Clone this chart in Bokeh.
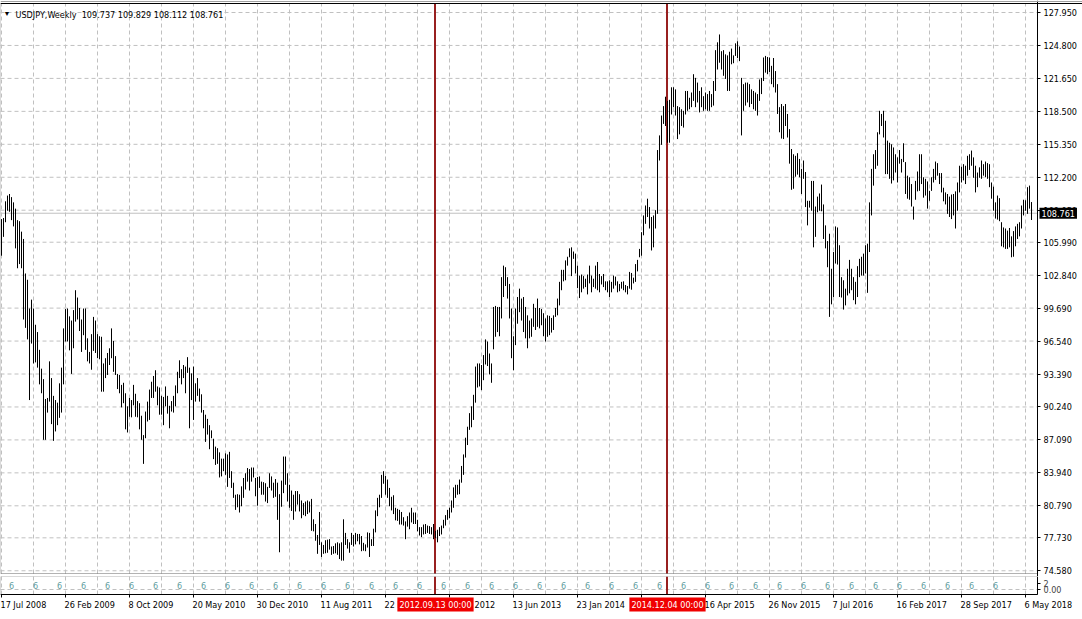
from bokeh.plotting import figure
from bokeh.layouts import column
from bokeh.models import (Range1d, FixedTicker, Span, Label, BoxAnnotation,
                          ColumnDataSource, NumeralTickFormatter)
from bokeh.embed import file_html
from bokeh.resources import INLINE
from bokeh.core.properties import value

# ---------------- data ----------------
symbol = "USDJPY,Weekly"
last_open = 109.737
last_close = 108.761

highs = [
    108.2, 108.3, 109.9, 110.45, 110.6, 110.3, 109.8, 109.2, 108.1, 108.0,
    107.0, 106.3, 103.0, 102.4, 99.65, 100.5, 99.65, 98.1, 97.4, 95.7,
    93.9, 92.9, 91.0, 91.1, 94.6, 93.0, 91.3, 90.9, 90.65, 92.5,
    94.0, 97.75, 99.6, 99.65, 98.9, 98.5, 99.5, 101.4, 100.7, 99.7,
    98.6, 99.65, 99.65, 96.8, 95.5, 97.2, 98.85, 98.5, 97.2, 97.0,
    96.95, 94.4, 94.9, 95.4, 95.85, 97.75, 96.55, 95.1, 93.4, 93.3,
    92.35, 92.55, 91.55, 90.3, 91.1, 90.9, 92.35, 91.5, 90.8, 90.6,
    89.4, 87.55, 89.8, 90.75, 91.9, 92.65, 93.2, 93.75, 92.2, 92.1,
    91.3, 91.2, 92.2, 91.3, 90.35, 90.8, 91.3, 92.3, 93.6, 94.7,
    93.85, 94.25, 94.1, 95.0, 94.0, 93.45, 94.1, 92.5, 93.0, 92.0,
    91.45, 89.95, 89.5, 89.1, 88.5, 88.0, 87.2, 86.45, 86.3, 85.9,
    85.3, 85.3, 85.8, 85.7, 85.95, 84.1, 83.0, 81.85, 81.9, 81.85,
    82.65, 83.45, 83.9, 84.4, 84.3, 84.45, 84.45, 83.45, 83.55, 83.6,
    83.1, 83.05, 82.95, 82.6, 83.9, 83.6, 83.0, 83.35, 83.0, 81.9,
    83.2, 85.5, 85.5, 83.9, 82.8, 82.25, 81.85, 82.2, 82.2, 81.9,
    81.3, 81.05, 81.2, 81.3, 81.2, 81.45, 79.5, 79.05, 78.0, 80.2,
    77.3, 77.05, 77.5, 77.55, 77.6, 76.9, 76.95, 77.2, 77.3, 77.2,
    77.3, 79.5, 78.2, 77.6, 77.3, 78.2, 78.0, 78.2, 78.1, 78.1,
    77.9, 77.25, 77.1, 78.25, 78.2, 77.6, 78.6, 80.35, 81.55, 81.85,
    83.75, 84.1, 83.65, 83.3, 82.5, 81.65, 81.8, 80.6, 80.5, 80.4,
    80.2, 79.7, 79.3, 79.8, 80.15, 80.6, 80.15, 80.15, 79.45, 78.75,
    78.75, 79.0, 79.05, 78.9, 78.85, 78.75, 79.05, 78.4, 78.5, 78.75,
    78.9, 79.45, 79.9, 80.4, 80.6, 81.3, 82.55, 82.8, 82.8, 83.3,
    84.6, 85.7, 87.3, 88.35, 89.65, 90.3, 91.4, 94.1, 94.4, 94.4,
    94.25, 95.2, 96.7, 96.5, 95.35, 94.4, 99.8, 99.9, 99.8, 99.8,
    102.65, 103.75, 103.6, 102.65, 102.0, 99.65, 97.0, 99.65, 100.75, 101.55,
    100.6, 100.75, 99.8, 99.0, 98.5, 98.7, 100.1, 99.7, 100.6, 99.7,
    99.6, 99.2, 98.7, 99.0, 98.95, 98.75, 99.0, 99.7, 100.6, 102.2,
    103.35, 103.35, 104.25, 104.6, 105.4, 105.5, 105.1, 104.9, 103.75, 102.8,
    102.9, 102.75, 102.5, 102.9, 103.75, 102.8, 102.5, 103.75, 104.1, 102.95,
    102.75, 102.95, 102.25, 102.25, 102.35, 102.2, 102.8, 102.7, 102.25, 102.0,
    102.2, 102.25, 101.9, 101.8, 103.15, 103.05, 102.6, 103.9, 104.3, 105.35,
    106.95, 108.55, 109.5, 110.15, 109.35, 108.4, 108.55, 109.05, 114.8, 116.2,
    118.1, 119.0, 119.9, 119.5, 119.6, 120.8, 120.8, 120.6, 119.0, 118.9,
    118.7, 118.55, 120.45, 120.45, 119.8, 120.3, 122.05, 121.7, 121.25, 120.45,
    120.8, 119.95, 120.3, 120.15, 120.45, 120.15, 121.4, 124.35, 125.1, 125.85,
    124.25, 124.35, 123.95, 123.85, 124.2, 124.5, 123.85, 125.0, 125.2, 124.7,
    121.7, 121.1, 121.25, 121.25, 121.1, 120.6, 120.45, 120.3, 120.15, 121.55,
    121.7, 123.65, 123.8, 123.7, 123.65, 122.85, 123.6, 122.35, 121.1, 118.9,
    119.2, 119.0, 119.2, 118.25, 116.8, 114.9, 114.4, 114.25, 114.5, 113.95,
    113.0, 113.8, 112.7, 109.95, 109.95, 111.85, 111.85, 109.4, 110.35, 110.65,
    111.5, 109.6, 107.6, 106.1, 106.8, 103.45, 105.05, 107.5, 107.4, 105.7,
    102.65, 102.35, 101.55, 103.45, 104.3, 103.45, 102.65, 102.2, 103.7, 104.4,
    104.6, 104.9, 105.7, 105.85, 109.8, 113.0, 114.4, 114.8, 116.5, 118.55,
    118.25, 118.55, 117.6, 115.7, 115.5, 115.35, 115.05, 114.4, 114.1, 114.8,
    113.95, 115.45, 113.65, 112.35, 112.2, 111.55, 109.4, 111.85, 112.75, 114.4,
    114.4, 112.2, 112.05, 111.8, 110.9, 112.2, 113.0, 113.7, 113.55, 112.6,
    112.6, 111.2, 110.75, 110.6, 110.35, 110.55, 110.6, 110.85, 111.7, 113.3,
    113.2, 113.45, 113.3, 114.25, 114.4, 114.75, 114.1, 113.3, 112.65, 113.15,
    113.8, 113.45, 113.7, 113.55, 113.45, 111.7, 111.3, 109.8, 110.45, 110.2,
    107.9, 107.4, 107.3, 107.1, 107.35, 106.55, 107.05, 107.5, 107.75, 107.9,
    109.5, 110.05, 110.0, 111.25, 111.4, 109.829,
]

lows = [
    104.7, 106.5, 107.9, 109.0, 108.9, 108.1, 107.5, 105.4, 103.5, 103.9,
    103.5, 98.6, 97.8, 96.7, 90.9, 96.3, 94.4, 94.5, 94.0, 92.4,
    91.55, 87.1, 87.1, 89.7, 90.75, 88.6, 87.0, 87.9, 88.5, 89.2,
    89.7, 92.4, 96.5, 96.5, 95.65, 93.4, 95.85, 98.4, 98.6, 97.5,
    95.5, 97.1, 95.7, 94.6, 94.4, 93.8, 95.6, 95.4, 94.9, 94.8,
    91.7, 91.7, 93.0, 93.3, 94.25, 94.9, 93.6, 93.3, 91.95, 91.55,
    90.2, 90.6, 88.1, 87.8, 89.3, 89.25, 90.4, 89.3, 89.25, 88.1,
    87.1, 84.8, 87.25, 88.85, 89.0, 91.1, 91.1, 91.7, 90.4, 89.5,
    89.5, 88.5, 90.3, 89.6, 88.2, 89.8, 89.7, 90.3, 91.55, 93.0,
    92.4, 93.0, 91.55, 93.5, 88.2, 90.9, 89.0, 90.75, 91.3, 90.75,
    89.7, 88.2, 86.9, 87.6, 86.2, 87.25, 85.25, 84.7, 84.8, 83.5,
    83.6, 84.1, 83.75, 82.6, 83.45, 82.5, 81.55, 80.4, 80.65, 80.15,
    80.75, 81.55, 82.35, 83.1, 82.25, 83.1, 83.5, 81.7, 80.8, 82.5,
    81.85, 81.85, 81.2, 81.05, 82.5, 82.25, 81.55, 81.65, 79.45, 76.35,
    80.7, 82.0, 82.8, 81.2, 80.6, 80.3, 79.45, 80.25, 80.9, 80.25,
    79.6, 79.9, 79.8, 80.0, 80.15, 78.4, 78.35, 77.45, 76.2, 77.05,
    75.9, 76.2, 76.25, 76.3, 76.6, 76.1, 76.2, 76.25, 76.1, 75.7,
    75.55, 75.55, 77.05, 76.7, 76.3, 77.05, 76.9, 77.1, 77.4, 77.1,
    76.45, 76.5, 76.45, 76.8, 75.9, 76.95, 76.95, 78.25, 79.8, 80.65,
    81.55, 82.9, 81.85, 81.55, 80.75, 80.35, 80.0, 79.4, 79.35, 79.0,
    79.0, 78.9, 77.6, 78.8, 78.55, 79.2, 79.05, 79.05, 78.35, 77.95,
    77.8, 78.05, 78.1, 78.2, 78.1, 78.05, 77.6, 77.7, 77.3, 77.9,
    78.05, 78.65, 78.9, 79.45, 79.6, 80.15, 80.6, 81.55, 81.85, 81.9,
    83.0, 83.75, 85.4, 86.6, 88.05, 88.3, 89.0, 90.65, 92.1, 92.2,
    91.85, 92.8, 94.3, 94.15, 93.35, 92.55, 95.75, 96.95, 97.4, 97.0,
    98.7, 100.75, 101.8, 100.6, 98.7, 94.9, 93.75, 96.15, 98.2, 99.3,
    98.5, 97.4, 96.8, 95.85, 96.8, 96.95, 97.9, 97.6, 97.9, 97.75,
    98.05, 97.0, 96.5, 96.95, 97.1, 97.35, 97.6, 98.85, 99.0, 99.95,
    101.4, 102.25, 102.35, 103.75, 104.55, 102.75, 104.4, 103.0, 101.6, 100.65,
    101.2, 101.55, 101.7, 101.0, 102.05, 101.2, 101.7, 101.55, 101.4, 101.2,
    101.95, 101.7, 101.4, 101.2, 100.75, 101.2, 101.55, 101.85, 101.2, 101.3,
    101.55, 101.4, 101.2, 101.0, 101.55, 101.45, 102.05, 102.2, 103.2, 104.55,
    104.7, 106.65, 107.75, 108.4, 107.3, 105.2, 105.5, 107.3, 108.7, 113.8,
    115.3, 117.3, 117.1, 115.5, 115.5, 118.2, 118.9, 118.1, 115.85, 116.3,
    117.1, 116.95, 118.2, 118.55, 118.7, 118.9, 119.5, 118.9, 119.35, 118.4,
    118.9, 118.55, 118.7, 118.55, 118.55, 118.9, 119.05, 120.45, 122.5, 123.15,
    122.5, 121.9, 121.6, 120.45, 120.45, 123.0, 123.1, 123.8, 123.6, 123.3,
    116.2, 118.55, 119.05, 119.35, 118.9, 119.2, 118.7, 118.55, 118.1, 119.5,
    120.15, 121.4, 122.2, 122.05, 122.25, 121.1, 120.8, 120.3, 118.25, 116.5,
    115.9, 115.85, 117.1, 116.0, 113.5, 111.0, 111.1, 112.25, 112.45, 112.2,
    110.6, 112.05, 109.35, 107.6, 109.3, 109.0, 105.5, 106.5, 108.85, 109.0,
    108.95, 106.3, 105.4, 103.6, 98.85, 100.05, 100.75, 103.95, 103.85, 100.75,
    100.7, 99.55, 99.95, 100.9, 101.1, 101.4, 100.45, 100.05, 100.75, 102.65,
    102.8, 102.8, 103.0, 101.15, 105.05, 108.55, 111.4, 113.0, 113.3, 116.3,
    117.1, 116.0, 112.5, 112.5, 112.05, 111.6, 111.9, 112.65, 111.7, 113.5,
    112.65, 113.65, 110.6, 110.15, 110.05, 109.4, 108.15, 110.05, 110.85, 110.9,
    111.55, 110.25, 110.45, 109.2, 109.95, 110.9, 111.7, 111.95, 112.35, 111.55,
    110.75, 109.9, 109.6, 108.7, 108.4, 108.2, 108.55, 107.3, 109.0, 110.75,
    111.7, 111.9, 111.55, 112.35, 112.9, 113.3, 112.15, 110.75, 111.25, 112.15,
    112.05, 112.35, 112.2, 112.05, 111.25, 110.15, 109.0, 108.25, 108.15, 108.0,
    105.6, 105.5, 105.35, 105.35, 105.5, 104.55, 104.6, 105.6, 106.3, 106.55,
    107.3, 108.55, 109.0, 108.7, 109.2, 108.112,
]

date_ticks = [0, 32, 64, 96, 128, 160, 192, 224, 256, 288, 320, 352, 384, 416, 448, 480, 512]
date_labels = ["17 Jul 2008", "26 Feb 2009", "8 Oct 2009", "20 May 2010", "30 Dec 2010",
               "11 Aug 2011", "22 Mar 2012", "1 Nov 2012", "13 Jun 2013", "23 Jan 2014",
               "4 Sep 2014", "16 Apr 2015", "26 Nov 2015", "7 Jul 2016", "16 Feb 2017",
               "28 Sep 2017", "6 May 2018"]
grid_bars = [0, 16, 32, 48, 64, 80, 96, 112, 128, 144, 160, 176, 192, 208, 224, 240, 256,
             272, 288, 304, 320, 336, 352, 368, 384, 400, 416, 432, 448, 464, 480, 496, 512]
price_ticks = [74.58, 77.73, 80.79, 83.94, 87.09, 90.24, 93.39, 96.54, 99.69, 102.84,
               105.99, 109.05, 112.20, 115.35, 118.50, 121.65, 124.80, 127.95]
vline_bars = [217, 333]
vline_labels = ["2012.09.13 00:00", "2014.12.04 00:00"]
sub_marks = [5, 17, 29, 41, 53, 65, 77, 89, 101, 113, 125, 137, 149, 161, 173, 185, 197,
             209, 221, 233, 245, 257, 269, 281, 293, 305, 317, 329, 341, 353, 365, 377,
             389, 401, 413, 425, 437, 449, 461, 473, 485, 497]
sub_mark_text = "6"
sub_ticks = {0: "0.00", 2: "2"}

# ---------------- geometry / styling ----------------
FONT = "DejaVu Sans Condensed"
FS = "9px"
GRID_COLOR = "#C0C0C0"
DASH = "4 3"
VLINE_COLOR = "#982020"
VLINE_SHIFT = 0.25          # half a pixel, keeps the 2px event lines crisp
LABEL_RED = "#F00000"
SUB_TEXT_COLOR = "#5F9EA0"

W, H_MAIN, H_SUB = 1082, 576, 43
X0, X1 = -0.5, 540.5        # bar i sits at canvas x = 1 + 2 i
X_EDGE = 518.0              # right border of the chart / price scale line
X_LEFT = -0.5               # left border line


def y2p(y):                 # canvas y (main window) -> price
    return 109.05 - (y - 209.7) * 0.0956


def y2s(y):                 # canvas y (sub window figure) -> sub value
    return (13.0 - y) / 3.0


TOP_P, BOT_P = y2p(3), y2p(573)
SUB_TOP, SUB_BOT = y2s(0), y2s(18)
LABEL_Y = y2s(28)

bars = list(range(len(highs)))
vline_x = [b - VLINE_SHIFT for b in vline_bars]
x_rng = Range1d(X0, X1)

# ---------------- main window ----------------
p = figure(width=W, height=H_MAIN, x_range=x_rng, y_range=Range1d(y2p(H_MAIN), y2p(0)),
           output_backend="svg", toolbar_location=None,
           x_axis_location=None, y_axis_location="right", min_border=0)
p.outline_line_color = None
p.background_fill_color = "white"
p.border_fill_color = "white"
p.grid.visible = False

ax = p.yaxis[0]
ax.fixed_location = X_EDGE
ax.ticker = FixedTicker(ticks=price_ticks)
ax.formatter = NumeralTickFormatter(format="0.000")
ax.major_tick_out = 3
ax.major_tick_in = 0
ax.minor_tick_line_color = None
ax.major_label_standoff = 3
ax.axis_line_color = "black"
ax.major_label_text_font = FONT
ax.major_label_text_font_size = FS
ax.major_label_text_color = "black"

# grid
p.segment(x0=X_LEFT, y0=price_ticks, x1=X_EDGE, y1=price_ticks,
          line_color=GRID_COLOR, line_dash=DASH, line_width=1)
p.segment(x0=grid_bars, y0=BOT_P, x1=grid_bars, y1=TOP_P,
          line_color=GRID_COLOR, line_dash=DASH, line_width=1)

# last price line
p.segment(x0=[X_LEFT], y0=[last_close], x1=[X_EDGE], y1=[last_close],
          line_color=GRID_COLOR, line_width=1)

# vertical event lines
p.segment(x0=vline_x, y0=BOT_P, x1=vline_x, y1=TOP_P,
          line_color=VLINE_COLOR, line_width=2)

# bars (high-low)
src = ColumnDataSource(dict(i=bars, high=highs, low=lows))
p.segment(x0="i", y0="low", x1="i", y1="high", source=src, line_color="black", line_width=1)

# frame
p.add_layout(BoxAnnotation(left=X_LEFT, right=X_EDGE, top=TOP_P, bottom=BOT_P,
                           fill_alpha=0, line_color="black", line_width=1))
p.add_layout(Span(location=TOP_P, dimension="width", line_color="black", line_width=1))
p.add_layout(Span(location=y2p(1), dimension="width", line_color="#A0A0A0", line_width=1))

title_text = "%s\u00a0 %.3f %.3f %.3f %.3f" % (symbol, last_open, highs[-1], lows[-1], last_close)
p.add_layout(Label(x=3, y=H_MAIN - 13, x_units="screen", y_units="screen", text="\u25BC",
                   text_font_size="7px", text_baseline="middle", text_color="black"))
p.add_layout(Label(x=15, y=H_MAIN - 14, x_units="screen", y_units="screen", text=title_text,
                   text_font=FONT, text_font_size=FS, text_baseline="middle",
                   text_color="black"))
p.add_layout(Label(x=X_EDGE + 1.0, y=last_close, text="%.3f" % last_close,
                   text_font=FONT, text_font_size=FS, text_baseline="middle",
                   text_align="left", text_color="white",
                   background_fill_color="black", padding=2))

# ---------------- sub window + time axis ----------------
q = figure(width=W, height=H_SUB, x_range=x_rng, y_range=Range1d(y2s(H_SUB), y2s(0)),
           output_backend="svg", toolbar_location=None,
           x_axis_location="below", y_axis_location="right", min_border=0)
q.outline_line_color = None
q.background_fill_color = "white"
q.border_fill_color = "white"
q.grid.visible = False

xa = q.xaxis[0]
xa.fixed_location = SUB_BOT
xa.bounds = (X_LEFT, X_EDGE)
xa.ticker = FixedTicker(ticks=date_ticks)
xa.major_label_overrides = {t: "" for t in date_ticks}
xa.major_tick_out = 3
xa.major_tick_in = 0
xa.minor_tick_line_color = None
xa.axis_line_color = "black"
xa.major_label_text_font_size = "1px"
xa.major_label_standoff = 0

ya = q.yaxis[0]
ya.fixed_location = X_EDGE
ya.bounds = (SUB_BOT, SUB_TOP)
ya.ticker = FixedTicker(ticks=list(sub_ticks.keys()))
ya.major_label_overrides = sub_ticks
ya.major_tick_out = 3
ya.major_tick_in = 0
ya.minor_tick_line_color = None
ya.major_label_standoff = 3
ya.axis_line_color = "black"
ya.major_label_text_font = FONT
ya.major_label_text_font_size = FS

q.segment(x0=[X_LEFT], y0=[0], x1=[X_EDGE], y1=[0],
          line_color=GRID_COLOR, line_dash=DASH, line_width=1)
q.segment(x0=grid_bars, y0=SUB_BOT, x1=grid_bars, y1=SUB_TOP,
          line_color=GRID_COLOR, line_dash=DASH, line_width=1)
q.segment(x0=vline_x, y0=SUB_BOT, x1=vline_x, y1=SUB_TOP,
          line_color=VLINE_COLOR, line_width=2)
q.add_layout(BoxAnnotation(left=X_LEFT, right=X_EDGE, top=SUB_TOP, bottom=SUB_BOT,
                           fill_alpha=0, line_color="black", line_width=1))

msrc = ColumnDataSource(dict(i=sub_marks, y=[y2s(9)] * len(sub_marks),
                             t=[sub_mark_text] * len(sub_marks)))
q.text(x="i", y="y", text="t", source=msrc, text_color=SUB_TEXT_COLOR,
       text_font=value(FONT), text_font_size=value(FS),
       text_align="center", text_baseline="middle")

dsrc = ColumnDataSource(dict(i=date_ticks, y=[LABEL_Y] * len(date_ticks), t=date_labels))
q.text(x="i", y="y", text="t", source=dsrc, x_offset=-1,
       text_font=value(FONT), text_font_size=value(FS),
       text_align="left", text_baseline="middle", text_color="black")
for b, t in zip(vline_bars, vline_labels):
    q.add_layout(Label(x=b, y=LABEL_Y, text=t, text_font=FONT,
                       text_font_size=FS, text_align="center", text_baseline="middle",
                       text_color="white", background_fill_color=LABEL_RED, padding=2))

layout = column(p, q, spacing=0)
open("out.html", "w").write(file_html(layout, INLINE))
